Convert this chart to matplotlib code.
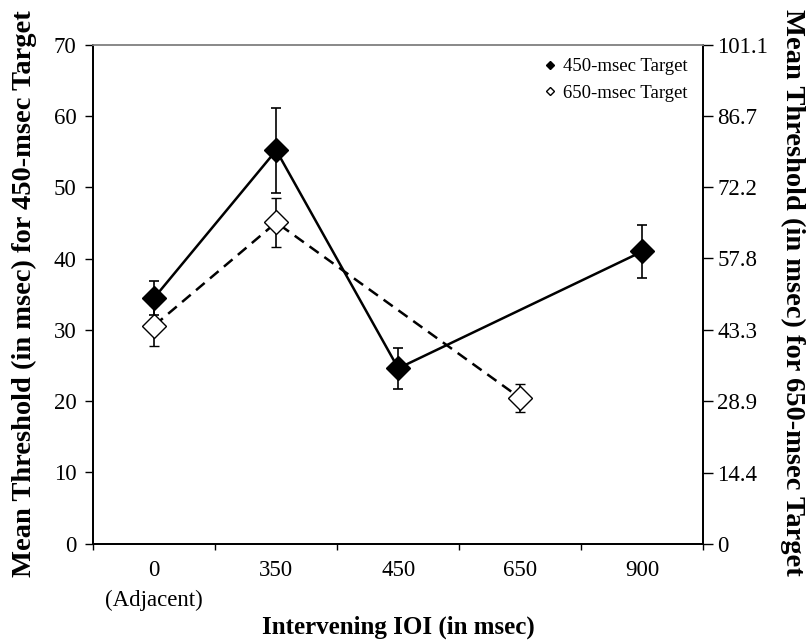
import matplotlib
matplotlib.use("Agg")
import matplotlib.pyplot as plt
from matplotlib.lines import Line2D
import numpy as np

plt.rcParams['font.family'] = ['Liberation Serif', 'DejaVu Serif']

categories = ["0\n(Adjacent)", "350", "450", "650", "900"]

# 450-msec target (left axis, msec)
t450_idx = [0, 1, 2, 4]
t450_mean = [34.5, 55.2, 24.6, 41.0]
t450_err = [2.4, 6.0, 2.9, 3.7]

# 650-msec target (right axis, msec)
t650_idx = [0, 1, 3]
t650_mean = [44.2, 65.1, 29.5]
t650_err = [4.2, 4.9, 2.9]

left_ticks = [0, 10, 20, 30, 40, 50, 60, 70]
right_ticks = [0, 14.4, 28.9, 43.3, 57.8, 72.2, 86.7, 101.1]

fig = plt.figure(figsize=(8.07, 6.41), dpi=100)
ax = fig.add_axes([0.1155, 0.152, 0.756, 0.778])
ax2 = ax.twinx()

x450 = np.array(t450_idx) + 0.5
x650 = np.array(t650_idx) + 0.5

ax2.errorbar(x650, t650_mean, yerr=t650_err, color='black', lw=1.8,
             dashes=(4.5, 2.8), marker='D', markersize=12, mfc='white',
             mec='black', mew=1.0, ecolor='black', elinewidth=1.2,
             capsize=3.5, capthick=1.2, zorder=2)
ax.errorbar(x450, t450_mean, yerr=t450_err, color='black', lw=1.8,
            marker='D', markersize=12, mfc='black', mec='black',
            ecolor='black', elinewidth=1.2, capsize=3.5, capthick=1.2,
            zorder=3)

ax.set_zorder(ax2.get_zorder() + 1)
ax.patch.set_visible(False)

ax.set_xlim(0, 5)
ax.set_ylim(0, 70)
ax2.set_ylim(0, 101.1)

ax.set_xticks(np.arange(0, 6))
ax.set_xticklabels([])
ax.set_xticks(np.arange(5) + 0.5, minor=True)
ax.set_xticklabels(categories, minor=True, fontsize=16.5, linespacing=1.5)
ax.tick_params(axis='x', which='minor', length=0, pad=12)
ax.tick_params(axis='x', which='major', direction='out', length=4, width=1)

ax.set_yticks(left_ticks)
ax.set_yticklabels([str(t) for t in left_ticks], fontsize=16.5)
ax.tick_params(axis='y', direction='out', length=6, width=1, pad=6)

ax2.set_yticks(right_ticks)
ax2.set_yticklabels([str(t) for t in right_ticks], fontsize=16.5)
ax2.tick_params(axis='y', direction='out', length=7, width=1, pad=3)

for a in (ax, ax2):
    a.spines['top'].set_color('#888888')
    a.spines['top'].set_linewidth(1.2)
    a.spines['left'].set_linewidth(1.3)
    a.spines['bottom'].set_linewidth(1.3)
    a.spines['right'].set_linewidth(1.3)

ax.set_xlabel("Intervening IOI (in msec)", fontsize=18, fontweight='bold',
              va='center')
ax.xaxis.set_label_coords(0.5, -0.1687)
ax.set_ylabel("Mean Threshold (in msec) for 450-msec Target", fontsize=20.5,
              fontweight='bold', va='center')
ax.yaxis.set_label_coords(-0.113, 0.502)
ax2.set_ylabel("Mean Threshold (in msec) for 650-msec Target", fontsize=20.5,
               fontweight='bold', rotation=270, va='center')
ax2.yaxis.set_label_coords(1.146, 0.504)

handles = [Line2D([], [], ls='none', marker='D', markersize=4, mfc='black', mec='black'),
           Line2D([], [], ls='none', marker='D', markersize=4, mfc='white', mec='black')]
ax.legend(handles, ["450-msec Target", "650-msec Target"], loc='upper right',
          frameon=False, fontsize=13.5, handlelength=0.5, handletextpad=0.4,
          labelspacing=0.5, borderaxespad=0.3, bbox_to_anchor=(0.995, 1.0))

fig.savefig("out.png", dpi=100)
